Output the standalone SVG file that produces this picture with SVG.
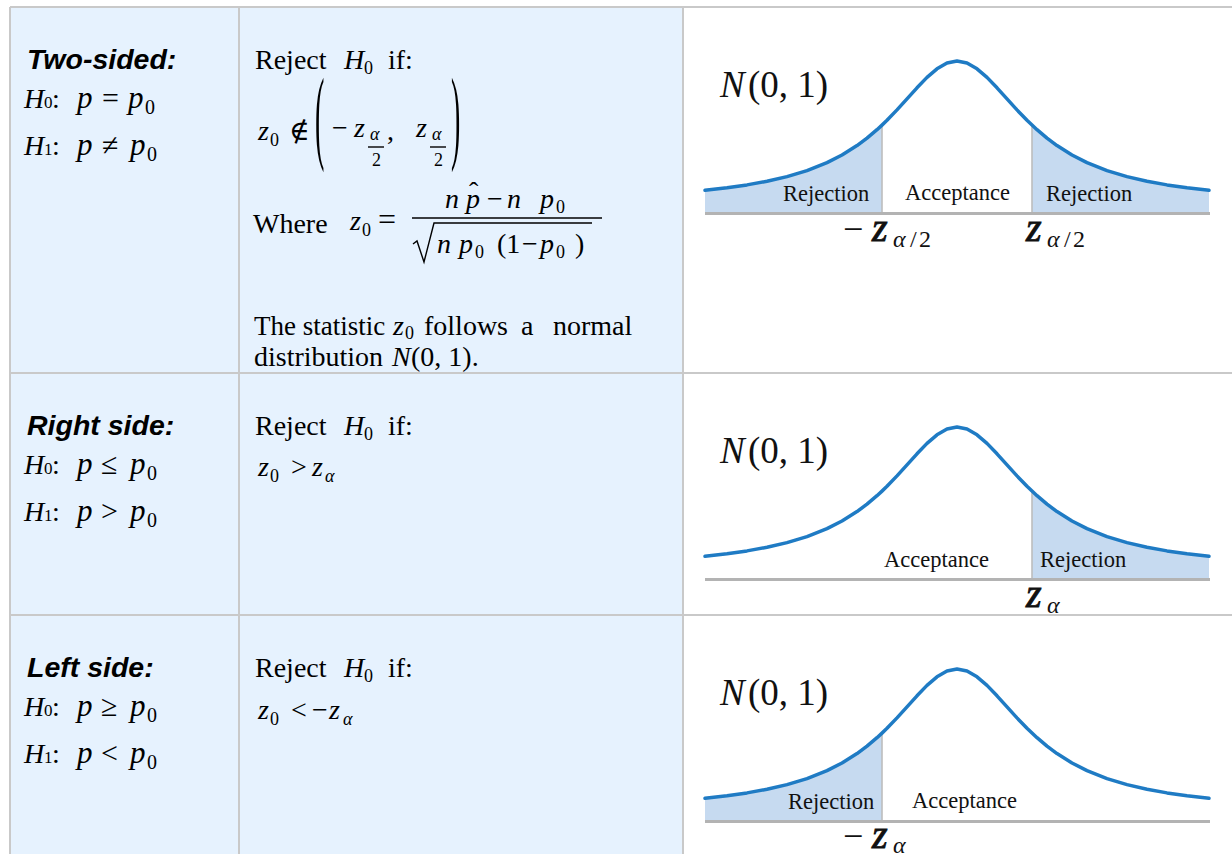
<svg xmlns="http://www.w3.org/2000/svg" xmlns:xlink="http://www.w3.org/1999/xlink" width="1232" height="854" viewBox="0 0 1232 854">
<style>
.tb{font-family:"Liberation Serif","DejaVu Serif",serif;font-size:28px;fill:#000}
.it{font-style:italic}
.sub{font-size:18px}
.lab{font-family:"Liberation Sans",Arial,sans-serif;font-weight:bold;font-style:italic;font-size:28.5px;fill:#000}
.pl{font-family:"Liberation Serif","DejaVu Serif",serif;font-size:22.5px;fill:#111}
.nl{font-family:"Liberation Serif","DejaVu Serif",serif;font-size:37px;fill:#111}
.zl{font-family:"Liberation Serif","DejaVu Serif",serif;font-size:36px;fill:#111}
.zb{font-style:italic;font-size:40px;stroke:#111;stroke-width:0.9}
.zs{font-family:"Liberation Serif","DejaVu Serif",serif;font-size:24px;fill:#111}
.grid{stroke:#c9c9c9;stroke-width:2;fill:none}
.crv{fill:none;stroke:#1f7bc4;stroke-width:3.5;stroke-linejoin:round;stroke-linecap:round}
.rej{fill:#c6daf0}
.vl{stroke:#bdbdbd;stroke-width:1.6}
.bl{stroke:#b3b3b3;stroke-width:3}
.bar{stroke:#000;stroke-width:1.4;fill:none}
</style>
<defs>
<polyline id="curve" class="crv" points="705,190.3 727,187.8 747,184.9 767,181.3 787,176.6 807,170.6 827,162.6 842,155 857,145.6 867,138.2 877,129.7 882,125.1 887,120.3 897,109.9 907,98.9 917,87.8 927,77.4 937,68.8 947,63 957,61 967,63 977,68.8 987,77.4 997,87.8 1007,98.9 1017,109.9 1027,120.3 1032,125.1 1037,129.7 1047,138.2 1057,145.6 1072,155 1087,162.6 1107,170.6 1127,176.6 1147,181.3 1167,184.9 1187,187.8 1209,190.3"/>
<polygon id="lfill" class="rej" points="705,212 705,190.3 727,187.8 747,184.9 767,181.3 787,176.6 807,170.6 827,162.6 842,155 857,145.6 867,138.2 877,129.7 882,125.1 882,212"/>
<polygon id="rfill" class="rej" points="1032,212 1032,125.1 1037,129.7 1047,138.2 1057,145.6 1072,155 1087,162.6 1107,170.6 1127,176.6 1147,181.3 1167,184.9 1187,187.8 1209,190.3 1209,212"/>
<line id="lvl" class="vl" x1="882" y1="126" x2="882" y2="212"/>
<line id="rvl" class="vl" x1="1032" y1="126" x2="1032" y2="212"/>
<line id="base" class="bl" x1="705" y1="213.5" x2="1210" y2="213.5"/>
<text id="nlab" class="nl" y="97"><tspan x="720" class="it">N</tspan><tspan x="748">(0, 1)</tspan></text>
</defs>

<g id="table">
<rect x="10" y="7" width="673" height="847" fill="#e6f2fe"/>
<rect x="683" y="7" width="549" height="847" fill="#ffffff"/>
<line class="grid" x1="10" y1="7" x2="1232" y2="7"/>
<line class="grid" x1="10" y1="7" x2="10" y2="854"/>
<line class="grid" x1="239" y1="7" x2="239" y2="854"/>
<line class="grid" x1="683" y1="7" x2="683" y2="854"/>
<line class="grid" x1="10" y1="373" x2="1232" y2="373"/>
<line class="grid" x1="10" y1="615" x2="1232" y2="615"/>
</g>

<g id="row1-hyp">
<text class="lab" x="27" y="69">Two-sided:</text>
<text class="tb" y="108"><tspan x="24" class="it">H</tspan><tspan x="44" font-size="17">0</tspan><tspan x="52">:</tspan><tspan x="77" class="it" font-size="31">p</tspan><tspan x="102" font-size="30">=</tspan><tspan x="128" class="it" font-size="31">p</tspan><tspan x="145" dy="6" font-size="20">0</tspan></text>
<text class="tb" y="155"><tspan x="24" class="it">H</tspan><tspan x="44" font-size="17">1</tspan><tspan x="52">:</tspan><tspan x="77" class="it" font-size="31">p</tspan><tspan x="102" font-size="30">≠</tspan><tspan x="130" class="it" font-size="31">p</tspan><tspan x="147" dy="6" font-size="20">0</tspan></text>
</g>

<g id="row1-rule">
<text class="tb" y="69"><tspan x="255">Reject</tspan><tspan x="344" class="it">H</tspan><tspan x="364" dy="5" class="sub">0</tspan><tspan x="388" dy="-5">if:</tspan></text>
<text class="tb" y="140"><tspan x="258" class="it">z</tspan><tspan x="270" dy="6" class="sub">0</tspan><tspan x="289" dy="-6">∉</tspan></text>
<text class="tb" transform="translate(315,150) scale(1,3.7)">(</text>
<text class="tb" transform="translate(451,150) scale(1,3.7)">)</text>
<text class="tb" y="137"><tspan x="332">−</tspan><tspan x="354" class="it">z</tspan></text>
<text class="tb it sub" x="370" y="140">α</text>
<line class="bar" x1="368" y1="147" x2="384" y2="147"/>
<text class="tb sub" x="372" y="166">2</text>
<text class="tb" x="387" y="140">,</text>
<text class="tb it" x="416" y="137">z</text>
<text class="tb it sub" x="432" y="140">α</text>
<line class="bar" x1="430" y1="147" x2="446" y2="147"/>
<text class="tb sub" x="434" y="166">2</text>

<text class="tb" x="253" y="233">Where</text>
<text class="tb" y="230"><tspan x="350" class="it">z</tspan><tspan x="362" dy="6" class="sub">0</tspan><tspan x="378" dy="-6" font-size="32">=</tspan></text>
<line class="bar" x1="412" y1="218" x2="602" y2="218"/>
<text class="tb" y="208"><tspan x="445" class="it">n</tspan><tspan x="466" class="it">p</tspan><tspan x="487">−</tspan><tspan x="507" class="it">n</tspan><tspan x="540" class="it">p</tspan><tspan x="556" dy="5" class="sub">0</tspan></text>
<text class="tb" x="469" y="201">ˆ</text>
<polyline class="bar" points="413,244 417,241 424,262 434,223 592,223"/>
<text class="tb" y="253"><tspan x="437" class="it">n</tspan><tspan x="459" class="it">p</tspan><tspan x="475" dy="5" class="sub">0</tspan><tspan x="497" dy="-5">(1</tspan><tspan x="522">−</tspan><tspan x="540" class="it">p</tspan><tspan x="556" dy="5" class="sub">0</tspan><tspan x="575" dy="-5">)</tspan></text>

<text class="tb" y="335"><tspan x="254" font-size="27">The statistic</tspan><tspan x="393" class="it">z</tspan><tspan x="405" dy="4" class="sub">0</tspan><tspan x="424" dy="-4">follows</tspan><tspan x="521">a</tspan><tspan x="553">normal</tspan></text>
<text class="tb" y="366"><tspan x="254">distribution</tspan><tspan x="392" class="it">N</tspan><tspan x="411">(0, 1).</tspan></text>
</g>

<g id="row1-plot">
<use xlink:href="#lfill"/>
<use xlink:href="#rfill"/>
<use xlink:href="#lvl"/>
<use xlink:href="#rvl"/>
<use xlink:href="#curve"/>
<use xlink:href="#base"/>
<use xlink:href="#nlab"/>
<text class="pl" x="783" y="201">Rejection</text>
<text class="pl" x="905" y="200">Acceptance</text>
<text class="pl" x="1046" y="201">Rejection</text>
<text class="zl" y="241"><tspan x="843">−</tspan><tspan x="872" class="zb">z</tspan></text>
<text class="zs" y="247"><tspan x="893" class="it">α</tspan><tspan x="910">/</tspan><tspan x="919">2</tspan></text>
<text class="zl zb" x="1026" y="241">z</text>
<text class="zs" y="247"><tspan x="1047" class="it">α</tspan><tspan x="1064">/</tspan><tspan x="1073">2</tspan></text>
</g>

<g id="row2-hyp">
<text class="lab" x="27" y="435">Right side:</text>
<text class="tb" y="474"><tspan x="24" class="it">H</tspan><tspan x="44" font-size="17">0</tspan><tspan x="52">:</tspan><tspan x="77" class="it" font-size="31">p</tspan><tspan x="101" font-size="30">≤</tspan><tspan x="130" class="it" font-size="31">p</tspan><tspan x="147" dy="6" font-size="20">0</tspan></text>
<text class="tb" y="521"><tspan x="24" class="it">H</tspan><tspan x="44" font-size="17">1</tspan><tspan x="52">:</tspan><tspan x="77" class="it" font-size="31">p</tspan><tspan x="101" font-size="30">&gt;</tspan><tspan x="130" class="it" font-size="31">p</tspan><tspan x="147" dy="6" font-size="20">0</tspan></text>
</g>

<g id="row2-rule">
<text class="tb" y="435"><tspan x="255">Reject</tspan><tspan x="344" class="it">H</tspan><tspan x="364" dy="5" class="sub">0</tspan><tspan x="388" dy="-5">if:</tspan></text>
<text class="tb" y="476"><tspan x="258" class="it">z</tspan><tspan x="270" dy="6" class="sub">0</tspan><tspan x="291" dy="-6">&gt;</tspan><tspan x="312" class="it">z</tspan><tspan x="325" dy="6" class="sub it">α</tspan></text>
</g>

<g id="row2-plot" transform="translate(0,366)">
<use xlink:href="#rfill"/>
<use xlink:href="#rvl"/>
<use xlink:href="#curve"/>
<use xlink:href="#base"/>
<use xlink:href="#nlab"/>
<text class="pl" x="884" y="201">Acceptance</text>
<text class="pl" x="1040" y="201">Rejection</text>
<text class="zl zb" x="1026" y="241">z</text>
<text class="zs it" x="1047" y="247">α</text>
</g>

<g id="row3-hyp">
<text class="lab" x="27" y="677">Left side:</text>
<text class="tb" y="716"><tspan x="24" class="it">H</tspan><tspan x="44" font-size="17">0</tspan><tspan x="52">:</tspan><tspan x="77" class="it" font-size="31">p</tspan><tspan x="101" font-size="30">≥</tspan><tspan x="130" class="it" font-size="31">p</tspan><tspan x="147" dy="6" font-size="20">0</tspan></text>
<text class="tb" y="763"><tspan x="24" class="it">H</tspan><tspan x="44" font-size="17">1</tspan><tspan x="52">:</tspan><tspan x="77" class="it" font-size="31">p</tspan><tspan x="101" font-size="30">&lt;</tspan><tspan x="130" class="it" font-size="31">p</tspan><tspan x="147" dy="6" font-size="20">0</tspan></text>
</g>

<g id="row3-rule">
<text class="tb" y="677"><tspan x="255">Reject</tspan><tspan x="344" class="it">H</tspan><tspan x="364" dy="5" class="sub">0</tspan><tspan x="388" dy="-5">if:</tspan></text>
<text class="tb" y="719"><tspan x="258" class="it">z</tspan><tspan x="270" dy="6" class="sub">0</tspan><tspan x="291" dy="-6">&lt;</tspan><tspan x="312">−</tspan><tspan x="329" class="it">z</tspan><tspan x="343" dy="6" class="sub it">α</tspan></text>
</g>

<g id="row3-plot" transform="translate(0,608)">
<use xlink:href="#lfill"/>
<use xlink:href="#lvl"/>
<use xlink:href="#curve"/>
<use xlink:href="#base"/>
<use xlink:href="#nlab"/>
<text class="pl" x="788" y="201">Rejection</text>
<text class="pl" x="912" y="200">Acceptance</text>
<text class="zl" y="240"><tspan x="843">−</tspan><tspan x="872" class="zb">z</tspan></text>
<text class="zs it" x="893" y="245">α</text>
</g>
</svg>
